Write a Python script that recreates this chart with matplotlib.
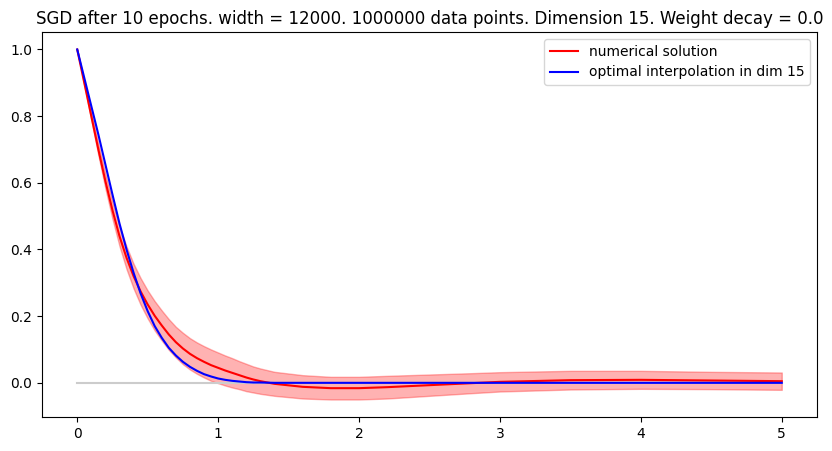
import matplotlib
matplotlib.use("Agg")
import matplotlib.pyplot as plt
import numpy as np

x_vals = [0.0, 0.05, 0.1, 0.15, 0.2, 0.25, 0.3, 0.35, 0.4, 0.45, 0.5, 0.55, 0.6,
          0.65, 0.7, 0.75, 0.8, 0.85, 0.9, 0.95, 1.0, 1.05, 1.1, 1.15, 1.2, 1.25,
          1.3, 1.4, 1.6, 1.8, 2.0, 2.2, 2.5, 2.8, 3.0, 3.5, 4.0, 4.5, 5.0]

# numerical solution (red) and its spread
numerical = [1.0, 0.90, 0.80, 0.70, 0.605, 0.518, 0.44, 0.375, 0.32, 0.274, 0.235,
             0.201, 0.172, 0.145, 0.122, 0.103, 0.087, 0.074, 0.063, 0.053, 0.045,
             0.037, 0.030, 0.023, 0.016, 0.010, 0.005, -0.003, -0.012, -0.016,
             -0.016, -0.013, -0.007, -0.001, 0.003, 0.008, 0.009, 0.007, 0.005]
spread = [0.0, 0.006, 0.012, 0.017, 0.022, 0.026, 0.030, 0.034, 0.037, 0.040, 0.042,
          0.044, 0.045, 0.046, 0.046, 0.047, 0.047, 0.047, 0.047, 0.047, 0.046,
          0.045, 0.044, 0.042, 0.041, 0.039, 0.038, 0.036, 0.035, 0.034, 0.034,
          0.034, 0.032, 0.030, 0.029, 0.028, 0.027, 0.026, 0.026]

# optimal interpolation (blue)
optimal = [1.0, 0.915, 0.83, 0.745, 0.655, 0.565, 0.478, 0.40, 0.33, 0.268, 0.215,
           0.17, 0.135, 0.105, 0.082, 0.063, 0.048, 0.036, 0.026, 0.019, 0.013,
           0.009, 0.006, 0.004, 0.002, 0.001, 0.001, 0.0, 0.0, 0.0, 0.0, 0.0, 0.0,
           0.0, 0.0, 0.0, 0.0, 0.0, 0.0]

x = np.array(x_vals)
y_num = np.array(numerical)
s = np.array(spread)

fig = plt.figure(figsize=(8.32, 4.51), dpi=100)
ax = fig.add_axes([42/832, (451-417)/451, 775/832, 385/451])

ax.plot([x[0], x[-1]], [0, 0], color="0.8", linewidth=1.5)
ax.fill_between(x, y_num - s, y_num + s, color="red", alpha=0.3)
ax.plot(x, y_num, "r-", label="numerical solution")
ax.plot(x, optimal, "b-", label="optimal interpolation in dim 15")
ax.legend(loc="upper right")
ax.set_title("SGD after 10 epochs. width = 12000. 1000000 data points. Dimension 15. Weight decay = 0.0")

fig.savefig("out.png", dpi=100)
